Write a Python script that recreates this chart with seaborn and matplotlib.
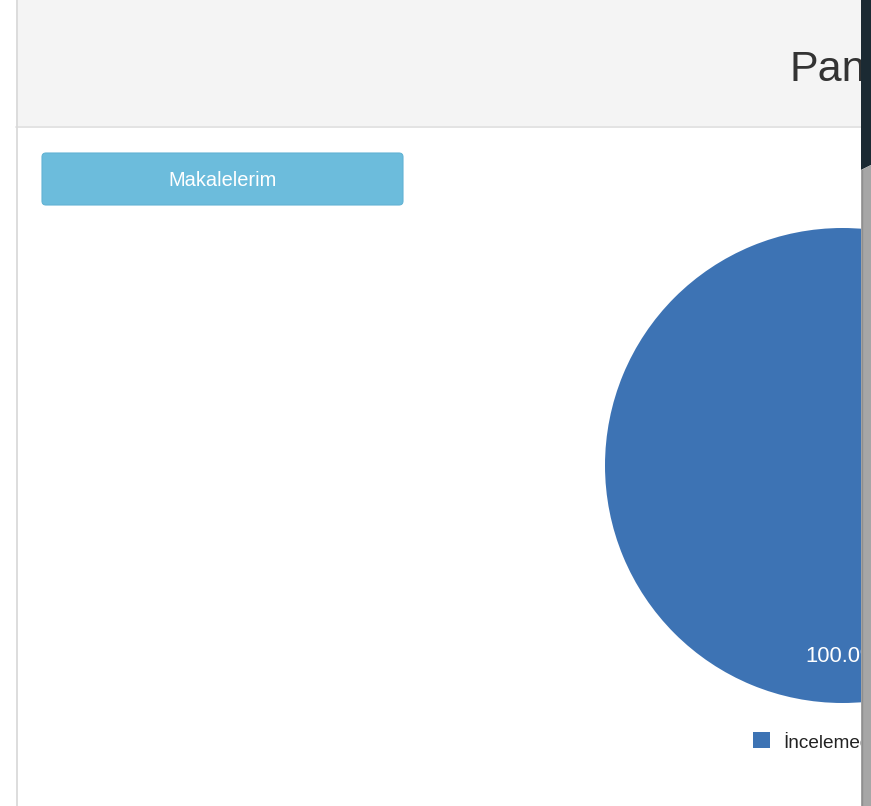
import matplotlib
matplotlib.use("Agg")
import matplotlib.pyplot as plt
import seaborn as sns
from matplotlib.patches import Rectangle, FancyBboxPatch, Polygon

# page texts
page_title = "Panel"
button_label = "Makalelerim"

# pie data
categories = ["İncelemede"]
values = [100.0]
colors = ["#3d73b4"]

W, H = 871, 806
sns.set_theme(style="white")
plt.rcParams["font.family"] = ["Liberation Sans", "DejaVu Sans"]


def px(v):
    # css pixels -> points at dpi 100
    return v * 72 / 100


fig = plt.figure(figsize=(W / 100, H / 100), dpi=100)
fig.patch.set_facecolor("white")

# page background in pixel coordinates
bg = fig.add_axes([0, 0, 1, 1])
bg.set_xlim(0, W); bg.set_ylim(H, 0); bg.axis("off")

# header band
bg.add_patch(Rectangle((16, 0), 845, 126, color="#f4f4f4", lw=0))
bg.plot([16, 861], [126.5, 126.5], color="#e1e1e1", lw=1.3)
bg.plot([16.5, 16.5], [0, H], color="#dadada", lw=1.3)
bg.text(789, 81, page_title, fontsize=px(43), color="#333333", va="baseline", ha="left")

# button
bg.add_patch(FancyBboxPatch((42, 153), 361, 52, boxstyle="round,pad=0,rounding_size=4",
                            facecolor="#6cbcdc", edgecolor="#62b3d4", lw=0.8))
bg.text(222.5, 180, button_label, fontsize=px(20), color="white", ha="center", va="center")

# pie
pa = fig.add_axes([605 / W, (H - 465.5 - 237.5) / H, 475 / W, 475 / H])
pa.pie(values, colors=colors, startangle=90, autopct="%.1f%%", pctdistance=0.806,
       textprops=dict(color="white", fontsize=px(22)), wedgeprops=dict(linewidth=0))
pa.set_xlim(-1, 1); pa.set_ylim(-1, 1)

# legend
for i, (cat, col) in enumerate(zip(categories, colors)):
    bg.add_patch(Rectangle((753, 732 + i * 24), 17, 16, color=col, lw=0))
    bg.text(783, 748 + i * 24, cat, fontsize=px(19), color="#222222", va="baseline", ha="left")

# right window edge (covers clipped content)
strip = fig.add_axes([861 / W, 0, 10 / W, 1])
strip.set_zorder(10)
strip.set_xlim(861, W); strip.set_ylim(H, 0); strip.axis("off")
strip.add_patch(Polygon([(861, 0), (W, 0), (W, 165), (861, 170)], color="#1b2a33", lw=0))
strip.add_patch(Polygon([(861, 170), (W, 165), (W, H), (861, H)], color="#a6a6a6", lw=0))
strip.plot([861.5, 861.5], [170, H], color="#8f8f8f", lw=1)

fig.savefig("out.png", dpi=100)
